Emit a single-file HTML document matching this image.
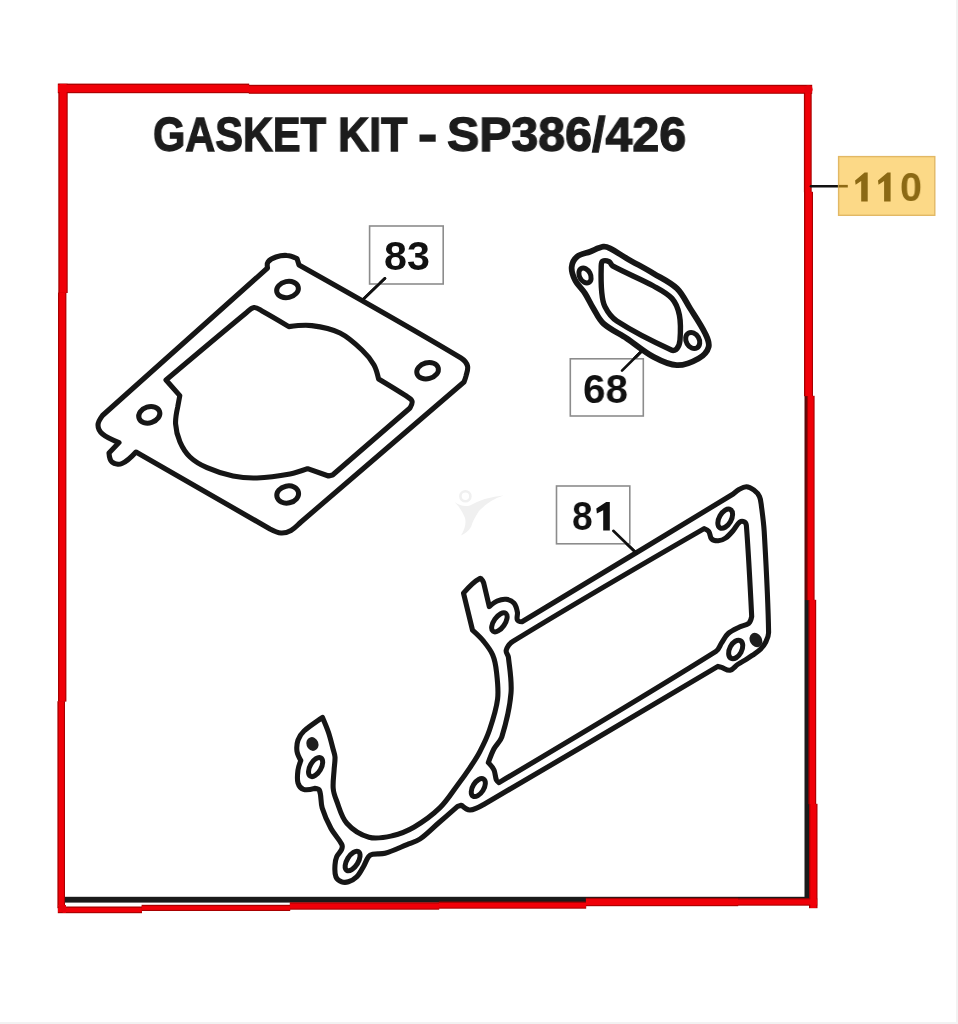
<!DOCTYPE html>
<html><head><meta charset="utf-8"><style>
html,body{margin:0;padding:0;background:#fff;}
body{width:958px;height:1024px;position:relative;overflow:hidden;font-family:"Liberation Sans",sans-serif;}
svg{position:absolute;left:0;top:0;}
.t{position:absolute;white-space:nowrap;line-height:1;will-change:transform;}
.ti{top:109.7px;font-size:49px;font-weight:bold;color:#1c1c1c;-webkit-text-stroke:1.3px #1c1c1c;transform-origin:0 0;}
.n{font-size:41.2px;font-weight:bold;color:#111;transform-origin:0 0;}
#edge{position:absolute;right:0;top:0;width:2px;height:1024px;background:#f2f2f2;}
#edgeb{position:absolute;left:0;bottom:0;width:958px;height:2px;background:#f2f2f2;}
</style></head><body>
<svg width="958" height="1024" viewBox="0 0 958 1024">
<rect x="64.5" y="896.8" width="744.5" height="5.8" fill="#1a1a1a"/>
<rect x="804.5" y="396" width="3" height="204" fill="#5a0a0a"/>
<rect x="804.5" y="600" width="4.5" height="302" fill="#1a1a1a"/>
<rect x="57.8" y="83.6" width="191.4" height="9.6" fill="#a80000"/>
<rect x="248.8" y="84.8" width="563.4" height="9.0" fill="#a80000"/>
<rect x="58.3" y="83.8" width="9.4" height="209.2" fill="#a80000"/>
<rect x="58.0" y="292.6" width="8.4" height="409.0" fill="#a80000"/>
<rect x="57.4" y="701.2" width="7.6" height="207.0" fill="#a80000"/>
<rect x="803.9" y="85.8" width="7.8" height="106.4" fill="#a80000"/>
<rect x="804.0" y="191.8" width="9.0" height="204.4" fill="#a80000"/>
<rect x="806.8" y="395.8" width="7.8" height="204.4" fill="#a80000"/>
<rect x="808.4" y="599.8" width="7.8" height="204.4" fill="#a80000"/>
<rect x="809.0" y="803.8" width="8.5" height="104.4" fill="#a80000"/>
<rect x="57.8" y="906.5" width="84.2" height="6.7" fill="#a80000"/>
<rect x="141.6" y="904.8" width="148.6" height="6.2" fill="#a80000"/>
<rect x="289.8" y="902.2" width="149.4" height="7.5" fill="#a80000"/>
<rect x="438.8" y="901.6" width="147.4" height="7.1" fill="#a80000"/>
<rect x="585.8" y="897.8" width="152.4" height="8.4" fill="#a80000"/>
<rect x="737.8" y="898.2" width="79.4" height="7.5" fill="#a80000"/>
<rect x="58.0" y="84.9" width="191.0" height="7.2" fill="#f00008"/>
<rect x="249.0" y="86.1" width="563.0" height="6.6" fill="#f00008"/>
<rect x="59.6" y="84.0" width="7.0" height="208.8" fill="#f00008"/>
<rect x="59.3" y="292.8" width="6.0" height="408.6" fill="#f00008"/>
<rect x="58.7" y="701.4" width="5.2" height="206.6" fill="#f00008"/>
<rect x="805.2" y="86.0" width="5.4" height="106.0" fill="#f00008"/>
<rect x="805.3" y="192.0" width="6.6" height="204.0" fill="#f00008"/>
<rect x="808.1" y="396.0" width="5.4" height="204.0" fill="#f00008"/>
<rect x="809.7" y="600.0" width="5.4" height="204.0" fill="#f00008"/>
<rect x="810.3" y="804.0" width="6.1" height="104.0" fill="#f00008"/>
<rect x="58.0" y="907.8" width="83.8" height="4.3" fill="#f00008"/>
<rect x="141.8" y="906.1" width="148.2" height="3.8" fill="#f00008"/>
<rect x="290.0" y="903.5" width="149.0" height="5.1" fill="#f00008"/>
<rect x="439.0" y="902.9" width="147.0" height="4.7" fill="#f00008"/>
<rect x="586.0" y="899.1" width="152.0" height="6.0" fill="#f00008"/>
<rect x="738.0" y="899.5" width="79.0" height="5.1" fill="#f00008"/>
<circle cx="808.4" cy="89.5" r="4.2" fill="#e8000a"/>
<path d="M57.6,905 L63,913 L66,913 L66,905 Z" fill="#e8000a"/>
<g fill="none" stroke="#161616" stroke-linejoin="round" stroke-linecap="round">
<path d="M267.5,268.0 C267.5,268.0 266.8,263.6 268.0,262.0 C269.9,259.5 273.0,258.0 276.0,257.0 C279.5,255.8 283.3,255.2 287.0,255.5 C290.5,255.7 297.0,258.5 297.0,258.5 L299.0,265.0 C299.0,265.0 407.6,326.0 461.0,358.0 C463.9,359.8 466.6,362.7 467.5,366.0 C468.4,369.2 466.7,372.7 466.0,376.0 C465.5,378.1 464.0,382.0 464.0,382.0 C464.0,382.0 355.3,475.3 301.0,522.0 C297.7,524.8 294.8,528.4 291.0,530.5 C288.0,532.2 284.4,533.2 281.0,533.0 C277.1,532.7 270.0,529.0 270.0,529.0 L136.0,452.0 C136.0,452.0 127.6,461.2 122.0,463.5 C118.9,464.8 114.6,464.1 112.0,462.0 C109.5,460.0 109.0,453.0 109.0,453.0 L119.0,442.6 C119.0,442.6 107.3,438.0 102.5,434.0 C99.9,431.8 98.0,428.4 98.0,425.0 C98.0,421.5 102.5,415.5 102.5,415.5 L267.5,268.0 Z" stroke-width="5.1"/>
<path d="M254.0,307.5 C256.9,307.1 259.4,309.6 262.0,311.0 C271.1,316.0 288.8,326.6 288.8,326.6 C288.8,326.6 304.2,324.6 311.8,325.6 C321.4,326.8 331.3,328.8 340.0,333.0 C348.3,337.1 355.3,343.6 362.0,350.0 C366.7,354.4 370.8,359.4 374.0,365.0 C376.4,369.3 378.6,379.0 378.6,379.0 C378.6,379.0 396.8,389.9 405.7,395.7 C408.0,397.2 411.1,398.4 412.0,401.0 C412.8,403.3 410.0,408.0 410.0,408.0 L332.6,475.0 L328.5,476.0 L307.6,468.7 C307.6,468.7 296.0,472.9 290.0,474.0 C279.1,476.0 268.1,477.6 257.0,478.0 C249.0,478.3 240.9,477.6 233.0,476.0 C224.1,474.2 215.3,471.4 207.0,467.7 C200.9,465.0 194.8,461.6 190.0,457.0 C185.6,452.9 182.4,447.5 180.0,442.0 C177.5,436.3 176.0,430.2 175.6,424.0 C175.2,418.3 177.7,407.0 177.7,407.0 L179.8,395.6 L166.0,380.0 C166.0,380.0 219.2,335.1 246.0,313.0 C248.5,310.9 250.8,307.9 254.0,307.5 Z" stroke-width="5.1"/>
<ellipse cx="287.5" cy="289.5" rx="11.0" ry="8.0" transform="rotate(-12 287.5 289.5)" fill="none" stroke-width="5.0"/>
<ellipse cx="427.6" cy="370.7" rx="11.0" ry="8.0" transform="rotate(-15 427.6 370.7)" fill="none" stroke-width="5.0"/>
<ellipse cx="149.3" cy="414.8" rx="10.8" ry="8.0" transform="rotate(-18 149.3 414.8)" fill="none" stroke-width="5.0"/>
<ellipse cx="287.7" cy="494.5" rx="11.0" ry="8.5" transform="rotate(-12 287.7 494.5)" fill="none" stroke-width="5.0"/>
<path d="M603.4,246.7 C598.7,247.5 594.5,250.0 590.0,251.7 C585.7,253.3 580.6,253.7 577.0,256.7 C574.0,259.2 572.0,263.2 571.7,267.0 C571.3,271.5 573.0,276.0 575.0,280.0 C577.5,285.0 582.0,288.7 585.0,293.4 C588.1,298.2 590.4,303.6 593.4,308.5 C596.5,313.6 598.9,319.5 603.4,323.5 C610.3,329.7 619.1,333.4 626.8,338.5 C635.8,344.5 644.0,351.8 653.5,356.9 C660.8,360.8 668.6,364.9 676.9,365.2 C684.5,365.5 692.0,362.3 698.6,358.5 C703.0,355.9 707.3,351.8 708.6,346.9 C709.8,342.4 707.2,337.7 705.2,333.5 C701.0,324.7 695.4,316.7 690.2,308.5 C685.9,301.7 682.7,294.0 676.9,288.4 C670.2,282.0 661.4,278.2 653.5,273.4 C644.7,268.2 635.7,263.5 626.8,258.4 C621.1,255.2 615.8,251.3 610.0,248.4 C608.0,247.4 605.6,246.3 603.4,246.7 Z" stroke-width="5.8"/>
<path d="M602.6,261.3 C604.4,260.1 607.2,260.8 609.2,261.7 C610.8,262.5 611.0,265.0 612.6,265.9 C625.9,273.2 640.2,278.7 653.5,286.0 C660.0,289.6 667.0,292.9 671.9,298.4 C676.0,303.0 678.2,309.1 679.4,315.1 C681.0,323.2 680.6,331.7 680.0,340.0 C679.8,343.0 678.9,346.1 677.0,348.5 C675.9,349.9 673.5,350.9 671.9,350.2 C653.0,341.6 634.2,332.3 616.8,321.0 C611.6,317.7 607.8,312.3 605.0,306.8 C602.6,302.3 602.2,296.9 601.7,291.8 C600.9,283.6 601.0,275.3 601.2,267.0 C601.3,265.0 601.0,262.4 602.6,261.3 Z" stroke-width="5.4"/>
<ellipse cx="585.0" cy="275.5" rx="5.5" ry="8.0" transform="rotate(-28 585.0 275.5)" fill="none" stroke-width="5.0"/>
<ellipse cx="692.7" cy="340.5" rx="6.5" ry="8.5" transform="rotate(-30 692.7 340.5)" fill="none" stroke-width="5.0"/>
<path d="M463.5,593.1 C463.5,593.1 473.3,581.8 479.8,578.5 C481.6,577.6 483.7,583.0 483.7,583.0 L489.3,606.6 C489.3,606.6 494.2,602.3 497.2,601.0 C500.0,599.8 503.2,598.9 506.2,599.3 C509.1,599.7 512.1,601.0 514.0,603.2 C516.1,605.6 516.8,609.1 517.4,612.2 C517.9,614.7 516.3,617.7 517.4,620.0 C518.1,621.5 522.0,621.8 522.0,621.8 C522.0,621.8 661.8,537.5 731.5,495.0 C734.1,493.4 736.3,491.0 739.0,489.5 C741.3,488.2 743.8,486.6 746.4,486.7 C749.1,486.8 751.7,488.4 753.9,490.0 C756.2,491.7 758.3,494.0 759.5,496.6 C760.9,499.5 761.0,502.8 761.4,506.0 C762.5,514.4 763.7,522.9 764.2,531.4 C766.1,565.1 768.1,598.8 768.6,632.6 C768.6,635.9 767.3,639.1 765.8,642.0 C764.4,644.8 762.4,647.3 760.2,649.5 C758.0,651.7 755.2,653.4 752.6,655.2 C750.8,656.5 748.9,657.7 747.0,658.9 C743.9,660.8 740.6,662.5 737.6,664.5 C735.0,666.3 733.1,669.6 730.0,670.2 C727.1,670.7 724.4,668.3 721.6,667.4 C720.4,667.0 717.9,666.4 717.9,666.4 C717.9,666.4 563.0,758.5 485.0,803.7 C480.3,806.4 475.4,809.7 470.0,810.0 C466.7,810.2 461.4,805.2 461.4,805.2 L457.6,806.4 C457.6,806.4 445.1,817.3 438.8,822.7 C432.5,828.1 426.8,834.3 420.0,839.0 C416.1,841.7 411.4,842.8 407.0,844.6 C399.7,847.6 392.6,851.2 385.0,853.3 C381.0,854.4 376.7,853.4 372.6,854.2 C371.0,854.5 369.4,855.4 368.5,856.7 C366.3,859.7 365.3,863.5 363.4,866.7 C361.4,870.2 359.6,873.9 356.8,876.8 C354.5,879.1 351.5,880.8 348.4,881.8 C346.3,882.5 343.8,882.6 341.7,881.8 C339.3,880.9 336.8,879.2 335.9,876.8 C334.4,873.1 334.8,868.9 335.0,865.0 C335.1,862.2 335.6,859.3 336.7,856.7 C337.9,853.9 340.6,852.0 341.7,849.2 C342.3,847.7 342.5,845.7 341.7,844.2 C338.8,838.6 334.0,834.1 331.0,828.5 C327.5,822.0 324.4,815.1 322.2,808.0 C320.5,802.4 321.6,796.0 319.5,790.5 C318.9,788.9 314.7,788.4 314.7,788.4 C314.7,788.4 307.1,790.6 303.5,789.4 C300.8,788.5 298.8,785.7 298.0,783.0 C296.8,778.8 297.5,774.3 298.0,770.0 C298.4,766.8 300.8,760.6 300.8,760.6 C300.8,760.6 297.5,754.7 297.0,751.4 C296.5,747.7 296.8,743.7 298.0,740.2 C299.2,736.7 301.3,733.5 304.0,731.0 C309.6,725.8 322.5,717.5 322.5,717.5 C322.5,717.5 326.9,727.6 328.6,732.8 C330.4,738.3 331.7,743.9 333.2,749.5 C333.9,752.0 334.9,754.4 335.0,757.0 C335.2,761.3 334.3,765.7 334.1,770.0 C333.7,776.1 332.7,782.3 333.2,788.4 C333.5,792.5 334.9,796.5 336.4,800.3 C339.5,808.1 341.2,817.0 346.8,823.3 C352.6,829.9 360.6,835.0 369.0,837.3 C376.5,839.4 384.7,837.5 392.3,835.8 C400.0,834.0 407.5,831.0 414.3,827.0 C423.5,821.6 432.3,815.2 440.0,807.7 C446.9,801.0 451.9,792.7 457.6,785.0 C461.9,779.3 466.1,773.5 470.0,767.6 C473.5,762.3 477.1,757.0 480.0,751.3 C483.6,744.4 487.0,737.4 489.5,730.0 C492.9,719.9 496.3,709.6 497.6,699.0 C498.7,690.1 497.5,681.0 496.5,672.0 C495.9,666.2 495.0,660.3 492.7,654.9 C490.6,649.9 487.1,645.6 483.7,641.4 C480.4,637.3 472.5,630.2 472.5,630.2 L463.5,593.1 Z" stroke-width="5.1"/>
<path d="M506.2,650.4 C505.6,652.7 508.1,654.8 508.4,657.1 C509.7,669.0 512.0,681.0 511.0,693.0 C509.8,707.9 506.2,722.7 501.8,737.0 C500.4,741.5 496.2,744.6 494.0,748.8 C491.7,753.2 488.3,762.6 488.3,762.6 C488.3,762.6 492.7,767.2 494.0,770.0 C495.4,773.1 495.1,776.8 496.4,780.0 C496.9,781.1 499.0,782.6 499.0,782.6 C499.0,782.6 644.4,696.3 716.0,651.4 C718.9,649.6 719.7,645.7 721.6,642.9 C723.8,639.7 725.3,636.0 728.2,633.5 C731.4,630.6 735.6,628.9 739.5,627.0 C742.5,625.5 746.3,625.4 748.9,623.2 C750.7,621.6 751.7,616.6 751.7,616.6 C751.7,616.6 748.7,556.0 746.4,525.8 C746.3,524.4 745.7,522.7 744.5,522.0 C743.1,521.2 741.1,521.1 739.8,522.0 C736.9,524.2 735.6,527.8 733.2,530.5 C730.9,533.2 728.6,536.0 725.7,538.0 C723.5,539.5 720.9,540.6 718.2,540.8 C715.9,540.9 713.2,540.5 711.6,538.9 C709.7,537.0 710.4,533.6 708.8,531.4 C707.7,529.9 704.1,528.6 704.1,528.6 C704.1,528.6 575.9,602.6 512.9,641.4 C509.7,643.4 507.2,646.8 506.2,650.4 Z" stroke-width="5.1"/>
<ellipse cx="499.4" cy="622.3" rx="11.0" ry="5.5" transform="rotate(-55 499.4 622.3)" fill="none" stroke-width="5.0"/>
<ellipse cx="725.2" cy="518.7" rx="10.5" ry="6.0" transform="rotate(-60 725.2 518.7)" fill="none" stroke-width="5.0"/>
<ellipse cx="735.7" cy="649.5" rx="10.0" ry="6.0" transform="rotate(-62 735.7 649.5)" fill="none" stroke-width="5.0"/>
<ellipse cx="478.3" cy="787.6" rx="10.0" ry="5.5" transform="rotate(-58 478.3 787.6)" fill="none" stroke-width="5.0"/>
<ellipse cx="352.6" cy="861.0" rx="11.0" ry="5.5" transform="rotate(-58 352.6 861.0)" fill="none" stroke-width="5.0"/>
<ellipse cx="315.6" cy="767.1" rx="10.5" ry="5.5" transform="rotate(-60 315.6 767.1)" fill="none" stroke-width="5.0"/>
</g>
<ellipse cx="312.4" cy="744.0" rx="6.0" ry="7.0" transform="rotate(-20 312.4 744.0)" fill="#1e1e1e"/>
<ellipse cx="755.9" cy="640.0" rx="6.0" ry="7.5" transform="rotate(-30 755.9 640.0)" fill="#1e1e1e"/>
<g stroke="#111" stroke-width="2.6" stroke-linecap="round">
<line x1="385" y1="278.3" x2="362.5" y2="300"/>
<line x1="642.8" y1="350" x2="622" y2="370.7"/>
<line x1="613.3" y1="530.8" x2="636.5" y2="553.3"/>
<line x1="811" y1="186.2" x2="838.5" y2="186.2"/>
</g>
<g fill="#fff" stroke="#8c8c8c" stroke-width="1.6">
<rect x="369.6" y="226" width="73.6" height="58"/>
<rect x="570.3" y="358.8" width="73" height="57.2"/>
<rect x="556.5" y="486" width="73.3" height="57.8"/>
</g>
<rect x="838.6" y="156.6" width="96.2" height="58.7" fill="#fcd987" stroke="#e2b865" stroke-width="1.4"/>
<line x1="838.5" y1="186.2" x2="847.8" y2="186.2" stroke="#8e6a14" stroke-width="2.6"/>
<line x1="385" y1="278.3" x2="380" y2="283" stroke="#111" stroke-width="2.6" stroke-linecap="round"/>
<line x1="642.8" y1="350" x2="636" y2="357" stroke="#111" stroke-width="2.6" stroke-linecap="round"/>
<line x1="613.3" y1="530.8" x2="636.5" y2="553.3" stroke="#111" stroke-width="2.6" stroke-linecap="round"/>
<line x1="642.8" y1="350" x2="622" y2="370.7" stroke="#111" stroke-width="2.6" stroke-linecap="round"/>
<line x1="385" y1="278.3" x2="362.5" y2="300" stroke="#111" stroke-width="2.6" stroke-linecap="round"/>
<path d="M596.3,508.4 L606.2,501.9 L609.8,501.9 L609.8,530.4 L603.2,530.4 L603.2,510.2 L596.9,513.6 Z" fill="#111"/>
<path d="M855.1,180.6 L864.6,172.5 L867.7,172.5 L867.7,201.6 L861.2,201.6 L861.2,181 L855.6,184.8 Z" fill="#8b6914"/>
<path d="M878,180.6 L887.5,172.5 L890.6,172.5 L890.6,201.6 L884.1,201.6 L884.1,181 L878.5,184.8 Z" fill="#8b6914"/>
<g fill="#f0f0f0"><circle cx="465.4" cy="496.3" r="5" fill="none" stroke="#f0f0f0" stroke-width="2.6"/><path d="M454.5,502 Q462,507.5 470,505.5 Q485,497 503.5,495.5 Q489,500 479,511 Q473,520 471,527 Q467,533 461,535.5 Q467,526 465,518 Q461,508 454.5,502 Z"/></g>
</svg>
<div class="t ti" style="left:153.3px;transform:scaleX(0.847)">GASKET</div>
<div class="t ti" style="left:338px;transform:scaleX(0.88)">KIT</div>
<div class="t ti" style="left:418.4px;transform:scaleX(1.18)">-</div>
<div class="t ti" style="left:446.8px;transform:scaleX(0.986)">SP386/426</div>
<div class="t n" style="left:384px;top:236.2px;">83</div>
<div class="t n" style="left:583.2px;top:369px;transform:scaleX(0.98)">68</div>
<div class="t n" style="left:571.6px;top:496px;transform:scaleX(0.9)">8</div>
<div class="t n" style="left:899.9px;top:166.8px;transform:scaleX(0.96);color:#8b6914;">0</div>
<div id="edge"></div><div id="edgeb"></div>
</body></html>
